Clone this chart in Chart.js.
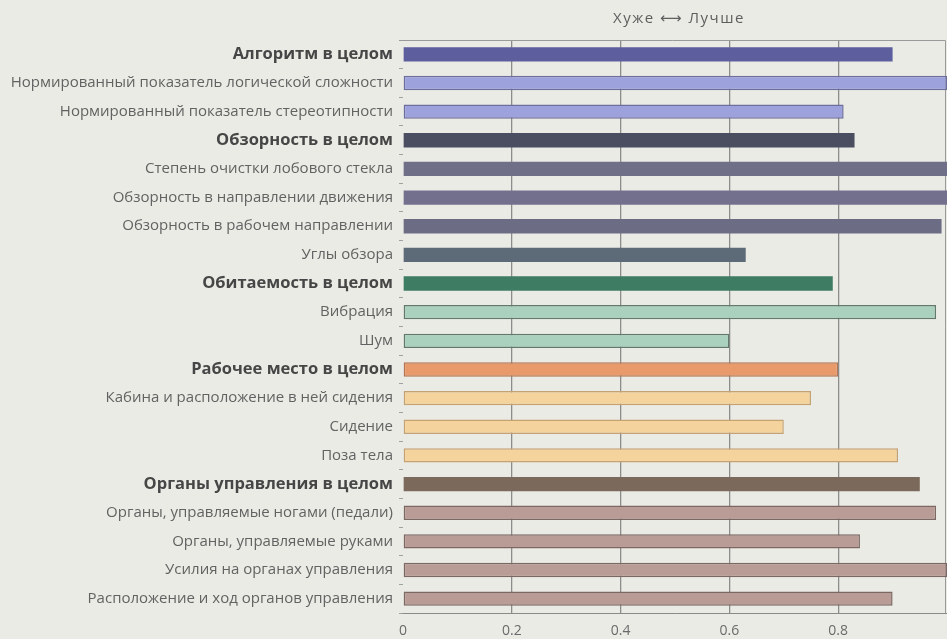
<!DOCTYPE html>
<html lang="ru">
<head>
<meta charset="utf-8">
<title>Хуже — Лучше</title>
<script src="https://cdn.jsdelivr.net/npm/chart.js@4.4.1/dist/chart.umd.min.js"></script>
<style>
  html, body { margin: 0; padding: 0; background: #ebebe6; }
  #wrap { position: relative; width: 947px; height: 639px; }
</style>
</head>
<body>
<div id="wrap"><canvas id="chart" width="947" height="639"></canvas></div>
<script>
// Оценки эргономических показателей (0 — хуже, 1 — лучше)
const categories = [
  'Алгоритм в целом',
  'Нормированный показатель логической сложности',
  'Нормированный показатель стереотипности',
  'Обзорность в целом',
  'Степень очистки лобового стекла',
  'Обзорность в направлении движения',
  'Обзорность в рабочем направлении',
  'Углы обзора',
  'Обитаемость в целом',
  'Вибрация',
  'Шум',
  'Рабочее место в целом',
  'Кабина и расположение в ней сидения',
  'Сидение',
  'Поза тела',
  'Органы управления в целом',
  'Органы, управляемые ногами (педали)',
  'Органы, управляемые руками',
  'Усилия на органах управления',
  'Расположение и ход органов управления'
];
const scores = [0.90, 1.00, 0.81, 0.83, 1.00, 1.00, 0.99, 0.63, 0.79, 0.98,
                0.60, 0.80, 0.75, 0.70, 0.91, 0.95, 0.98, 0.84, 1.00, 0.90];
// Итоговые строки групп выделяются жирным шрифтом
const summaryRows = [0, 3, 8, 11, 15];
const xTicks = [0, 0.2, 0.4, 0.6, 0.8];
const axisTitle = 'Хуже ⟷ Лучше';

// Цвета групп: заливка, обводка, толщина обводки
const fills = [
  '#5c5e9e', '#9ea2dc', '#9ea2dc',
  '#4b4e60', '#6f6f88', '#72708c', '#6c6c84', '#5d6a78',
  '#3f7c64', '#a9d1bd', '#a9d1bd',
  '#e99a6b', '#f5d39c', '#f5d39c', '#f5d39c',
  '#7b6a5b', '#b99c95', '#b99c95', '#b99c95', '#b99c95'
];
const strokes = [
  '#5c5e9e', '#6c6e9c', '#6c6e9c',
  '#4b4e60', '#6f6f88', '#72708c', '#6c6c84', '#5d6a78',
  '#3f7c64', '#627a6c', '#627a6c',
  '#b47652', '#c5a274', '#c5a274', '#c5a274',
  '#7b6a5b', '#7c6863', '#7c6863', '#7c6863', '#7c6863'
];
const strokeWidths = [0, 1.5, 1.5, 0, 0, 0, 0, 0, 0, 1.5, 1.5, 1.5, 1.5, 1.5, 1.5, 0, 1.5, 1.5, 1.5, 1.5];

const LABEL_FONT = '"Open Sans", "DejaVu Sans", sans-serif';

// Рамка области графика и подпись над ней
const framePlugin = {
  id: 'frame',
  beforeDatasetsDraw(chart) {
    const { ctx, chartArea: a } = chart;
    ctx.save();
    ctx.strokeStyle = '#9a9a9a';
    ctx.lineWidth = 1;
    ctx.beginPath();
    ctx.moveTo(a.left - 4, a.top + 0.5);
    ctx.lineTo(a.right - 1.5, a.top + 0.5);
    ctx.lineTo(a.right - 1.5, a.bottom);
    ctx.stroke();
    ctx.restore();
  },
  afterDraw(chart) {
    const { ctx, chartArea: a } = chart;
    ctx.save();
    ctx.font = '15px ' + LABEL_FONT;
    if ('letterSpacing' in ctx) ctx.letterSpacing = '1.5px';
    ctx.fillStyle = '#5e5e5e';
    ctx.textAlign = 'center';
    ctx.textBaseline = 'middle';
    ctx.fillText(axisTitle, (a.left + a.right) / 2 + 4, 19);
    ctx.restore();
  }
};

new Chart(document.getElementById('chart'), {
  type: 'bar',
  data: {
    labels: categories,
    datasets: [{
      data: scores,
      backgroundColor: fills,
      borderColor: strokes,
      borderWidth: strokeWidths,
      borderSkipped: false,
      barPercentage: 0.5,
      categoryPercentage: 1
    }]
  },
  options: {
    indexAxis: 'y',
    responsive: false,
    animation: false,
    layout: { padding: { top: 40, right: 0, left: 0, bottom: 0 } },
    plugins: {
      legend: { display: false },
      tooltip: { enabled: false },
      title: { display: false }
    },
    scales: {
      x: {
        min: 0,
        max: 1,
        afterBuildTicks(scale) {
          scale.ticks = xTicks.map(v => ({ value: v }));
        },
        afterFit(scale) { scale.height = 26; },
        grid: {
          color: ctx => (ctx.tick && ctx.tick.value > 0 ? '#8c8c8c' : 'rgba(0,0,0,0)'),
          lineWidth: 1.3,
          drawTicks: false
        },
        border: { display: true, color: '#8a8a8a', width: 1 },
        ticks: {
          padding: 10,
          color: '#6a6a6a',
          font: { family: LABEL_FONT, size: 14 },
          callback: v => String(v)
        }
      },
      y: {
        afterFit(scale) { scale.width = 403; },
        grid: {
          drawOnChartArea: false,
          drawTicks: true,
          tickLength: 4,
          tickColor: '#a0a0a0',
          offset: true
        },
        border: { display: false },
        ticks: {
          padding: 6,
          autoSkip: false,
          color: ctx => (summaryRows.includes(ctx.index) ? '#464646' : '#626262'),
          font: ctx => (summaryRows.includes(ctx.index)
            ? { family: LABEL_FONT, size: 16.5, weight: 'bold' }
            : { family: LABEL_FONT, size: 15, weight: 'normal' })
        }
      }
    }
  },
  plugins: [framePlugin]
});
</script>
</body>
</html>
